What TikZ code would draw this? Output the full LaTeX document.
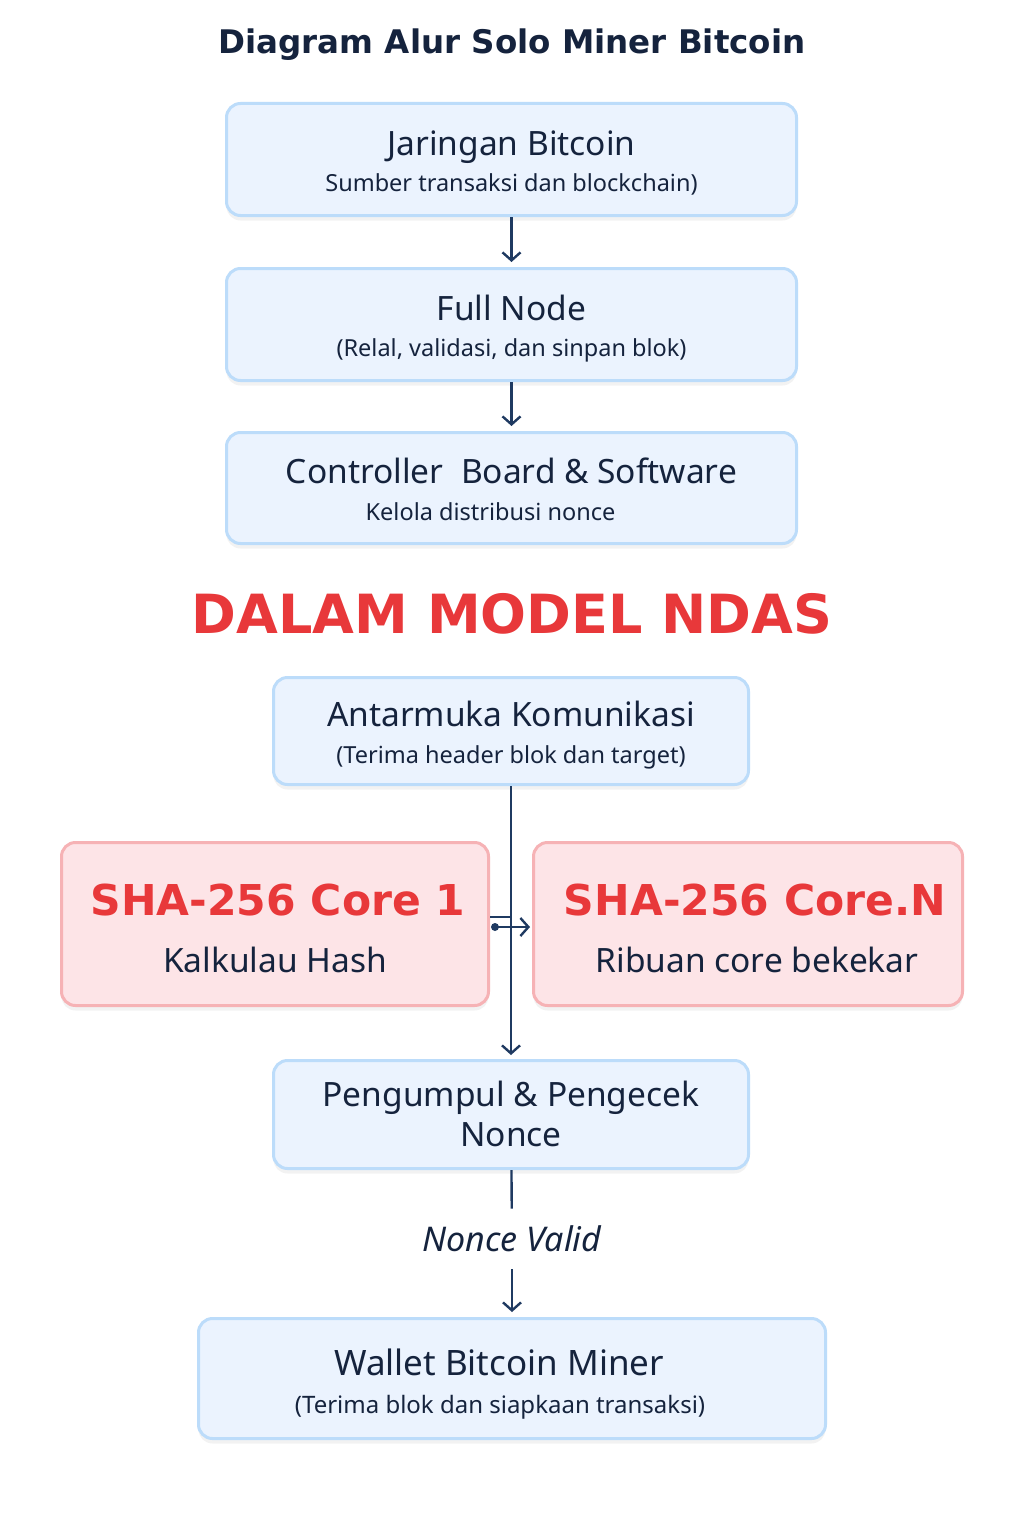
\documentclass[tikz,border=0pt]{standalone}
\usepackage{fontspec}
\setmainfont{Noto Sans}
\newfontfamily\headfont{DejaVu Sans}
\usetikzlibrary{arrows.meta,shadows}

\definecolor{boxfill}{HTML}{EBF3FE}
\definecolor{boxline}{HTML}{BCDCFA}
\definecolor{corefill}{HTML}{FDE4E7}
\definecolor{coreline}{HTML}{F6B2B5}
\definecolor{redtxt}{HTML}{E8383A}
\definecolor{navy}{HTML}{15233D}
\definecolor{arrowc}{HTML}{1F3A61}

\tikzset{every picture/.style={line width=0.75pt}}
\tikzset{
	flowbox/.style={draw=boxline, fill=boxfill, line width=3pt, rounded corners=14pt,
		align=center, text=navy, inner sep=0pt,
		drop shadow={shadow xshift=0pt, shadow yshift=-5pt, opacity=0.05, fill=black}},
	corebox/.style={flowbox, draw=coreline, fill=corefill},
	flowarrow/.style={draw=arrowc, line width=2.4pt, -{Straight Barb[length=8pt,width=18pt]}},
	flowline/.style={draw=arrowc, line width=2.4pt}
}
\newcommand{\boxtitle}[1]{{\fontsize{33.5}{40}\selectfont\rule[-12pt]{0pt}{48pt}#1}}
\newcommand{\boxsub}[1]{{\fontsize{23.5}{28}\selectfont\strut #1}}
\newcommand{\coretitle}[1]{{\fontsize{42.5}{52}\selectfont\headfont\bfseries\color{redtxt}\rule[-15.6pt]{0pt}{68pt}#1}}
\newcommand{\coresub}[1]{{\fontsize{33.5}{40}\selectfont\strut #1}}

\begin{document}
\begin{tikzpicture}[x=1pt,y=1pt,yscale=-1]
	\useasboundingbox[fill=white] (0,0) rectangle (1024,1536);

	% Title
	\node (title) at (512,45) {\fontsize{32.5}{38}\selectfont\headfont\bfseries\color{navy}Diagram Alur Solo Miner Bitcoin};

	%Shape: upper flow
	\node[flowbox, minimum width=570pt, minimum height=112pt] (net) at (511.5,159.5)
		{\boxtitle{Jaringan Bitcoin}\\[3pt]\boxsub{Sumber transaksi dan blockchain)}};
	\node[flowbox, minimum width=570pt, minimum height=112pt] (full) at (511.5,324.5)
		{\boxtitle{Full Node}\\[4pt]\boxsub{(Relal, validasi, dan sinpan blok)}};
	\node[flowbox, minimum width=570pt, minimum height=111pt] (ctrl) at (511.5,488)
		{\boxtitle{Controller\ \ Board \& Software}\\[5pt]\boxsub{Kelola distribusi nonce\hspace*{42pt}}};

	% Text Node
	\node (ndas) at (512,614) {\fontsize{54}{60}\selectfont\headfont\bfseries\color{redtxt}DALAM MODEL NDAS};

	%Shape: NDAS flow
	\node[flowbox, minimum width=475pt, minimum height=107pt] (comm) at (511,731)
		{\boxtitle{Antarmuka Komunikasi}\\[5pt]\boxsub{(Terima header blok dan target)}};
	\node[corebox, minimum width=427pt, minimum height=163pt] (core1) at (275,924)
		{\coretitle{\hspace*{6pt}SHA-256 Core 1}\\[12pt]\coresub{Kalkulau Hash}};
	\node[corebox, minimum width=429pt, minimum height=163pt] (coreN) at (748,924)
		{\coretitle{\hspace*{14pt}SHA-256 Core.N}\\[12pt]\coresub{\hspace*{18pt}Ribuan core bekekar}};
	\node[flowbox, minimum width=475pt, minimum height=108pt] (coll) at (511,1114.5)
		{\boxtitle{Pengumpul \& Pengecek}\\[-9pt]\boxtitle{Nonce}};
	\node[text=navy, minimum height=60pt, inner sep=0pt] (valid) at (512,1239)
		{\fontsize{34}{40}\selectfont\itshape Nonce Valid};
	\node[flowbox, minimum width=627pt, minimum height=120pt] (wallet) at (512,1378.5)
		{{\fontsize{35}{42}\selectfont\rule[-12.6pt]{0pt}{54pt}Wallet Bitcoin Miner}\hspace*{26pt}\\[4pt]{\fontsize{24}{29}\selectfont\strut (Terima blok dan siapkaan transaksi)}\hspace*{24pt}};

	%Straight Lines
	\draw[flowarrow, shorten >=5pt] (net) -- (full);
	\draw[flowarrow, shorten >=5pt] (full) -- (ctrl);
	\draw[flowarrow, shorten >=4pt] (comm) -- (coll);
	\draw[flowline] ([yshift=-7pt]core1.east) -- ([yshift=-7pt]core1.east -| comm.south);
	\fill[arrowc] ([xshift=5pt,yshift=3pt]core1.east) circle (4pt);
	\draw[flowarrow, shorten >=2pt] ([xshift=5pt,yshift=3pt]core1.east) -- ([yshift=3pt]coreN.west);
	\draw[flowline] (coll) -- (valid);
	\draw[flowarrow, shorten >=5pt] (valid) -- (wallet);

\end{tikzpicture}
\end{document}
